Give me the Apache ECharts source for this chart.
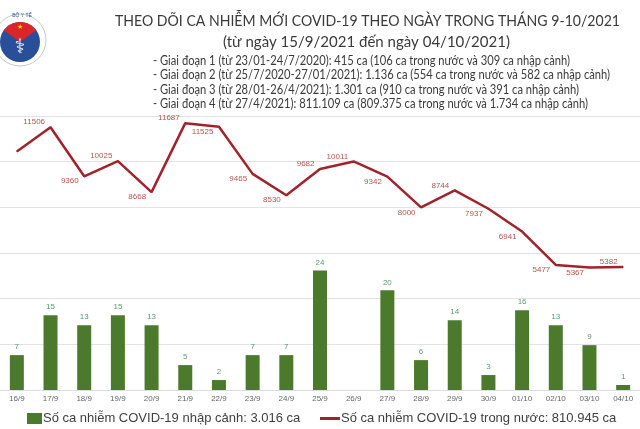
<!DOCTYPE html>
<html>
<head>
<meta charset="utf-8">
<script src="https://cdn.jsdelivr.net/npm/echarts@6/dist/echarts.min.js"></script>
<style>
    html, body {margin: 0; padding: 0; background: #fff;}
    #chart {width: 640px; height: 429px;}
</style>
</head>
<body>
<div id="chart"></div>
<script>
//ngày
var days = ['16/9', '17/9', '18/9', '19/9', '20/9', '21/9', '22/9', '23/9', '24/9', '25/9',
    '26/9', '27/9', '28/9', '29/9', '30/9', '01/10', '02/10', '03/10', '04/10'];
//ca nhập cảnh (cột)
var importedCases = [7, 15, 13, 15, 13, 5, 2, 7, 7, 24, 0, 20, 6, 14, 3, 16, 13, 9, 1];
//ca trong nước (đường)
var domesticCases = [10450, 11506, 9360, 10025, 8668, 11687, 11525, 9465, 8530, 9682,
    10011, 9342, 8000, 8744, 7937, 6941, 5477, 5367, 5382];

var titleText = 'THEO DÕI CA NHIỄM MỚI COVID-19 THEO NGÀY TRONG THÁNG 9-10/2021';
var subText = '(từ ngày 15/9/2021 đến ngày 04/10/2021)';
var stageLines = [
    '- Giai đoạn 1 (từ 23/01-24/7/2020): 415 ca (106 ca trong nước và 309 ca nhập cảnh)',
    '- Giai đoạn 2 (từ 25/7/2020-27/01/2021): 1.136 ca (554 ca trong nước và 582 ca nhập cảnh)',
    '- Giai đoạn 3 (từ 28/01-26/4/2021): 1.301 ca (910 ca trong nước và 391 ca nhập cảnh)',
    '- Giai đoạn 4 (từ 27/4/2021): 811.109 ca (809.375 ca trong nước và 1.734 ca nhập cảnh)'
];
var legendBar = 'Số ca nhiễm COVID-19 nhập cảnh: 3.016 ca';
var legendLine = 'Số ca nhiễm COVID-19 trong nước: 810.945 ca';

var headFont = 'Lato';
var headColor = '#3a3a3a';

//đo độ rộng chữ để co ngang cho giống font hẹp
var ctx = document.createElement('canvas').getContext('2d');
function textWidth(txt, size) {
    ctx.font = size + 'px ' + headFont;
    return ctx.measureText(txt).width;
}
function headText(txt, x, y, size, width) {
    return {
        type: 'text', x: x, y: y,
        scaleX: width / textWidth(txt, size),
        style: {text: txt, fontFamily: headFont, fontSize: size, fill: headColor, align: 'left', verticalAlign: 'middle'}
    };
}

var graphics = [
    //logo Bộ Y tế (đơn giản)
    {type: 'circle', shape: {cx: 20, cy: 40, r: 26}, style: {fill: '#fff', stroke: '#c8c8c8', lineWidth: 1}},
    {type: 'circle', shape: {cx: 20, cy: 42, r: 20}, style: {fill: '#2a4f9a'}},
    {type: 'sector', shape: {cx: 20, cy: 42, r: 20, startAngle: Math.PI * 1.2, endAngle: Math.PI * 1.8}, style: {fill: '#d8262a'}},
    {type: 'text', x: 20, y: 27, style: {text: '★', fill: '#ffd200', fontSize: 7, align: 'center', verticalAlign: 'middle'}},
    {type: 'text', x: 20, y: 48, style: {text: '⚕', fill: '#fff', fontSize: 20, fontFamily: 'DejaVu Sans', align: 'center', verticalAlign: 'middle'}},
    {type: 'text', x: 22, y: 16, style: {text: 'BỘ Y TẾ', fill: '#2a4f9a', fontSize: 5, align: 'center', verticalAlign: 'middle'}},
    headText(titleText, 115, 21, 16, 505),
    headText(subText, 223, 42, 16, 287)
];
//độ rộng của dòng dài nhất (dòng 2) = 457px, các dòng khác cùng tỉ lệ
var stageScale = 457 / textWidth(stageLines[1], 12.5);
stageLines.forEach(function (line, i) {
    graphics.push(headText(line, 153, 61 + i * 14.4, 12.5, textWidth(line, 12.5) * stageScale));
});

//nhãn của đường: đặt bên trái, lệch lên/xuống tùy hướng đoạn thẳng đi vào
var lineData = domesticCases.map(function (v, i) {
    if (i === 0) {
        return {value: v, label: {show: false}};
    }
    var dir = domesticCases[i - 1] < v ? -1 : 1;
    return {value: v, label: {offset: [0, dir * 5]}};
});

var myChart = echarts.init(document.getElementById('chart'));

var option = {
    backgroundColor: '#fff',
    animation: false,
    graphic: graphics,
    legend: [
        {
            left: 27, top: 412, padding: 0, itemWidth: 15, itemHeight: 11,
            data: [{name: legendBar, icon: 'rect'}],
            textStyle: {fontFamily: 'Liberation Sans', fontSize: 13, color: '#404040', padding: [0, 0, 0, -4]}
        },
        {
            left: 320, top: 412, padding: 0, itemWidth: 20, itemHeight: 3,
            data: [{name: legendLine, icon: 'rect'}],
            textStyle: {fontFamily: 'Liberation Sans', fontSize: 13, color: '#404040', padding: [0, 0, 0, -4]}
        }
    ],
    grid: {left: -10.5, right: -15, top: 116, bottom: 39, containLabel: false},
    xAxis: {
        type: 'category',
        data: days,
        axisLine: {show: true, lineStyle: {color: '#dcdcdc'}},
        axisTick: {show: false},
        axisLabel: {color: '#666', fontSize: 8, margin: 5, interval: 0}
    },
    yAxis: [
        {
            type: 'value', min: 0, max: 55, show: false
        },
        {
            type: 'value', min: 0, max: 12000, interval: 2000,
            axisLine: {show: false}, axisTick: {show: false}, axisLabel: {show: false},
            splitLine: {lineStyle: {color: '#e3e3e3', width: 1}}
        }
    ],
    series: [
        {
            name: legendBar,
            type: 'bar',
            yAxisIndex: 0,
            data: importedCases,
            barWidth: 14,
            itemStyle: {color: '#4b7a2c'},
            label: {
                show: true, position: 'top', distance: 4, fontSize: 8, color: '#5b9a73',
                formatter: function (p) { return p.value ? p.value : ''; }
            }
        },
        {
            name: legendLine,
            type: 'line',
            yAxisIndex: 1,
            data: lineData,
            symbol: 'circle',
            symbolSize: 1,
            showSymbol: true,
            lineStyle: {color: '#a3222a', width: 2.5},
            itemStyle: {color: '#a3222a'},
            label: {show: true, position: 'left', distance: 5, fontSize: 8, color: '#b5534b'},
            z: 5
        }
    ]
};

myChart.setOption(option);
</script>
</body>
</html>
